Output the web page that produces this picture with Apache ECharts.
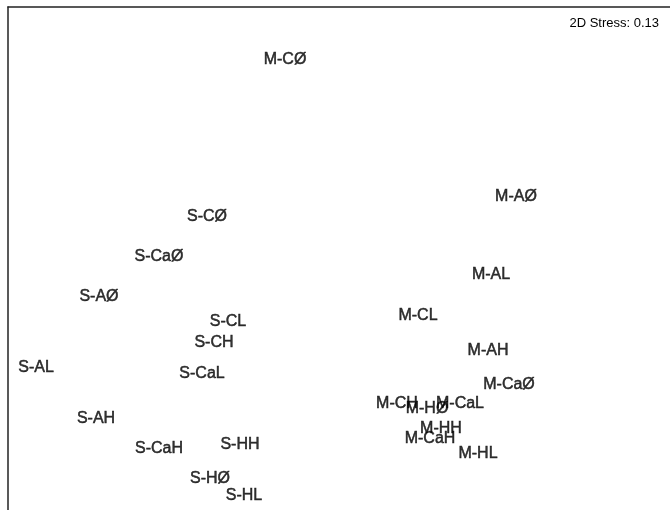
<!DOCTYPE html>
<html>
<head>
<meta charset="utf-8">
<script src="https://cdn.jsdelivr.net/npm/echarts@6/dist/echarts.min.js"></script>
<style>html,body{margin:0;padding:0;background:#fff}#c{width:670px;height:510px}</style>
</head>
<body>
<div id="c"></div>
<script>
// NMDS ordination coordinates (arbitrary units)
const mLabels = ['M-CØ','M-AØ','M-AL','M-CL','M-AH','M-CaØ','M-CH','M-HØ','M-CaL','M-HH','M-CaH','M-HL'];
const mX = [-0.54, 1.77, 1.52, 0.79, 1.49, 1.70, 0.58, 0.88, 1.21, 1.02, 0.91, 1.39];
const mY = [ 2.00, 0.63, -0.15, -0.56, -0.91, -1.25, -1.44, -1.49, -1.44, -1.69, -1.79, -1.94];

const sLabels = ['S-CØ','S-CaØ','S-AØ','S-CL','S-CH','S-AL','S-CaL','S-AH','S-HH','S-CaH','S-HØ','S-HL'];
const sX = [-1.32, -1.80, -2.40, -1.11, -1.25, -3.03, -1.37, -2.43, -0.99, -1.80, -1.29, -0.95];
const sY = [ 0.43, 0.03, -0.37, -0.62, -0.83, -1.08, -1.14, -1.59, -1.85, -1.89, -2.19, -2.36];

const stressText = '2D Stress: 0.13';

function build(labels, xs, ys) {
  return labels.map((n, i) => ({ name: n, value: [xs[i], ys[i]] }));
}

const labelStyle = {
  show: true,
  position: [0, 1],
  align: 'center',
  verticalAlign: 'middle',
  formatter: p => p.name,
  color: '#000',
  textBorderColor: '#000',
  textBorderWidth: 0.5,
  fontFamily: 'Liberation Sans, Arial, sans-serif',
  fontSize: 16
};

const chart = echarts.init(document.getElementById('c'), null, { renderer: 'canvas' });
chart.setOption({
  animation: false,
  backgroundColor: '#fff',
  title: {
    text: stressText,
    right: 6,
    top: 12,
    textStyle: { fontSize: 13, fontWeight: 'normal', color: '#000', fontFamily: 'Liberation Sans, Arial, sans-serif' }
  },
  grid: { left: 8, right: 0, top: 7, bottom: 0 },
  xAxis: {
    type: 'value', min: -3.31, max: 3.31, position: 'top',
    axisLine: { show: true, onZero: false, lineStyle: { color: '#222', width: 1.5 } },
    axisTick: { show: false }, axisLabel: { show: false }, splitLine: { show: false }
  },
  yAxis: {
    type: 'value', min: -2.51, max: 2.51, position: 'left',
    axisLine: { show: true, onZero: false, lineStyle: { color: '#222', width: 1.5 } },
    axisTick: { show: false }, axisLabel: { show: false }, splitLine: { show: false }
  },
  series: [
    { type: 'scatter', symbolSize: 0, data: build(mLabels, mX, mY), label: labelStyle, labelLayout: { hideOverlap: false } },
    { type: 'scatter', symbolSize: 0, data: build(sLabels, sX, sY), label: labelStyle, labelLayout: { hideOverlap: false } }
  ]
});
</script>
</body>
</html>
